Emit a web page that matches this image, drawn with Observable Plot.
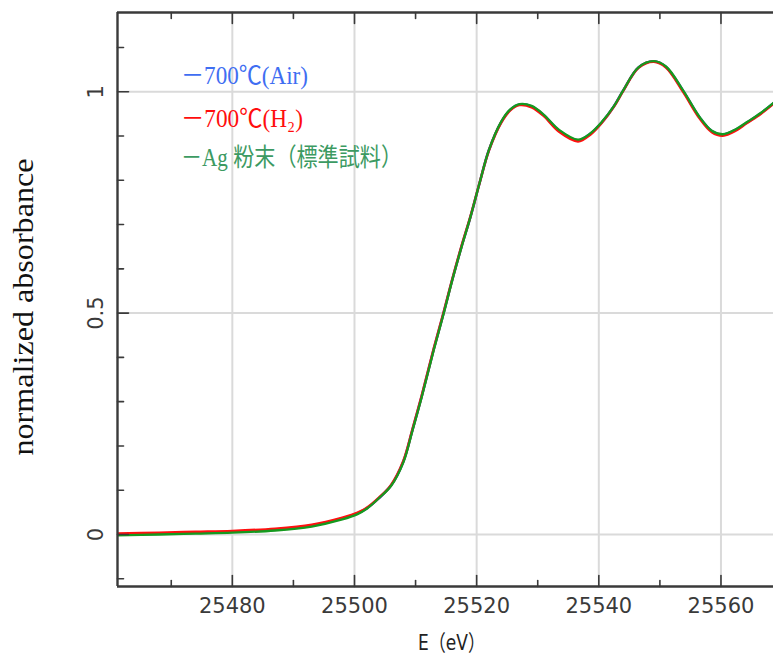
<!DOCTYPE html>
<html><head><meta charset="utf-8">
<script src="https://cdn.jsdelivr.net/npm/d3@7"></script>
<script src="https://cdn.jsdelivr.net/npm/@observablehq/plot@0.6"></script>
<style>html,body{margin:0;padding:0;background:#fff;} #chart{width:773px;height:655px;overflow:hidden}</style>
</head><body><div id="chart"></div>
<script>
// ---- data ----
const energy = [25461, 25468, 25474, 25480, 25487, 25493, 25498, 25500.5, 25502, 25504, 25506, 25508, 25509.5, 25511, 25513, 25514.6, 25516, 25517.5, 25519, 25520.5, 25522, 25524, 25525.5, 25527, 25529, 25531, 25533.5, 25536.6, 25538.6, 25540.5, 25542.5, 25544, 25546.5, 25549, 25551, 25553.8, 25556.5, 25558.5, 25560.3, 25562.5, 25564.2, 25566.5, 25568.6];
const airValues = [0.000, 0.002, 0.004, 0.006, 0.011, 0.020, 0.036, 0.048, 0.059, 0.082, 0.111, 0.165, 0.237, 0.312, 0.420, 0.501, 0.575, 0.649, 0.718, 0.795, 0.868, 0.931, 0.959, 0.971, 0.967, 0.947, 0.912, 0.890, 0.905, 0.931, 0.968, 1.003, 1.055, 1.069, 1.056, 1.002, 0.942, 0.911, 0.903, 0.915, 0.930, 0.951, 0.974];
const h2Values = [0.002, 0.004, 0.006, 0.008, 0.013, 0.022, 0.038, 0.049, 0.060, 0.083, 0.112, 0.166, 0.238, 0.313, 0.421, 0.502, 0.576, 0.650, 0.719, 0.795, 0.867, 0.930, 0.958, 0.970, 0.965, 0.945, 0.910, 0.888, 0.903, 0.930, 0.967, 1.002, 1.054, 1.068, 1.055, 1.000, 0.940, 0.909, 0.901, 0.913, 0.929, 0.950, 0.973];
const agValues = [-0.002, 0.000, 0.002, 0.004, 0.009, 0.018, 0.034, 0.046, 0.058, 0.082, 0.110, 0.163, 0.235, 0.310, 0.418, 0.499, 0.574, 0.648, 0.718, 0.795, 0.868, 0.932, 0.960, 0.972, 0.968, 0.948, 0.914, 0.892, 0.906, 0.932, 0.968, 1.003, 1.055, 1.069, 1.057, 1.003, 0.943, 0.912, 0.904, 0.916, 0.931, 0.952, 0.975];

const seriesNames = ["700℃(Air)", "700℃(H₂)", "Ag 粉末（標準試料）"];
const seriesColors = ["#2346ff", "#ff1010", "#159a1e"];
const legendColors = ["#3f6ef2", "#ff0d0d", "#3c9a62"];

const xDomain = [25461.2, 25568.6];
const yDomain = [-0.1175, 1.179];
const xMajor = [25480, 25500, 25520, 25540, 25560];
const xMinor = [25470, 25490, 25510, 25530, 25550];
const xLabels = ["25480", "25500", "25520", "25540", "25560"];
const yMajor = [0, 0.5, 1];
const yMinor = [-0.1, 0.1, 0.2, 0.3, 0.4, 0.6, 0.7, 0.8, 0.9, 1.1];
const yLabels = ["0", "0.5", "1"];
const xTitle = "E（eV）";
const yTitle = "normalized absorbance";

// ---- build ----
const seriesValues = [airValues, h2Values, agValues];
const rows = seriesValues.map(vals => energy.map((e, i) => ({E: e, v: vals[i]})));
const axisColor = "#3a3a3a";
const tickShape = {draw(ctx, l) { ctx.moveTo(0, 0); ctx.lineTo(0, -l); }};
const tickFont = "'DejaVu Sans', sans-serif";

const ticks = (data, anchor, rotate, length, ch) => Plot.vector(data, {
  [ch]: d => d, frameAnchor: anchor, rotate, length, anchor: "start",
  shape: tickShape, stroke: axisColor, strokeWidth: 1.6
});

const plot = Plot.plot({
  width: 773, height: 655,
  marginLeft: 117, marginRight: 0, marginTop: 12, marginBottom: 69,
  x: {domain: xDomain, axis: null},
  y: {domain: yDomain, axis: null},
  style: {background: "white", overflow: "visible"},
  marks: [
    Plot.ruleX(xMajor, {stroke: "#dadada", strokeWidth: 2}),
    Plot.ruleY(yMajor, {stroke: "#dadada", strokeWidth: 2}),
    ...rows.map((r, i) => Plot.line(r, {x: "E", y: "v", stroke: seriesColors[i], strokeWidth: i === 2 ? 2.3 : 2.6, curve: "catmull-rom", clip: true})),
    Plot.ruleX([xDomain[0]], {stroke: axisColor, strokeWidth: 2.4}),
    Plot.ruleY([yDomain[0]], {stroke: axisColor, strokeWidth: 2.4}),
    Plot.ruleY([yDomain[1]], {stroke: axisColor, strokeWidth: 2.4}),
    ticks(xMajor, "bottom", 0, 11, "x"),
    ticks(xMinor, "bottom", 0, 6, "x"),
    ticks(xMajor, "top", 180, 11, "x"),
    ticks(xMinor, "top", 180, 6, "x"),
    ticks(yMajor, "left", 90, 11, "y"),
    ticks(yMinor, "left", 90, 6, "y"),
    Plot.text(xMajor, {x: d => d, frameAnchor: "bottom", dy: 12, lineAnchor: "top", text: (d, i) => xLabels[i], fontSize: 21, fontFamily: tickFont, fill: "#3a3a3a"}),
    Plot.text(yMajor, {y: d => d, frameAnchor: "left", dx: -15, rotate: -90, lineAnchor: "bottom", textAnchor: "middle", text: (d, i) => yLabels[i], fontSize: 21, fontFamily: tickFont, fill: "#3a3a3a"})
  ]
});

const svg = d3.select(plot);
svg.append("text")
  .attr("transform", "translate(33,307) rotate(-90)")
  .attr("text-anchor", "middle")
  .attr("font-family", "'Liberation Serif', serif")
  .attr("font-size", 29)
  .attr("textLength", 297).attr("lengthAdjust", "spacingAndGlyphs")
  .attr("fill", "#111")
  .text(yTitle);

svg.append("text")
  .attr("x", 418).attr("y", 650)
  .attr("text-anchor", "start")
  .attr("font-family", "'DejaVu Sans', 'Noto Sans CJK JP', sans-serif")
  .attr("font-size", 22)
  .attr("textLength", 67).attr("lengthAdjust", "spacingAndGlyphs")
  .attr("fill", "#222")
  .text(xTitle);

const legendBase = [84, 126.5, 166];
const legendWidths = [127, 122, 221];
seriesNames.forEach((name, i) => {
  svg.append("text")
    .attr("x", 181).attr("y", legendBase[i])
    .attr("text-anchor", "start")
    .attr("font-family", "'Liberation Serif', 'Noto Sans CJK JP', 'DejaVu Serif', serif")
    .attr("font-size", 25)
    .attr("textLength", legendWidths[i]).attr("lengthAdjust", "spacingAndGlyphs")
    .attr("fill", legendColors[i])
    .text("－" + name);
});

document.getElementById("chart").appendChild(plot);
</script>
</body></html>
